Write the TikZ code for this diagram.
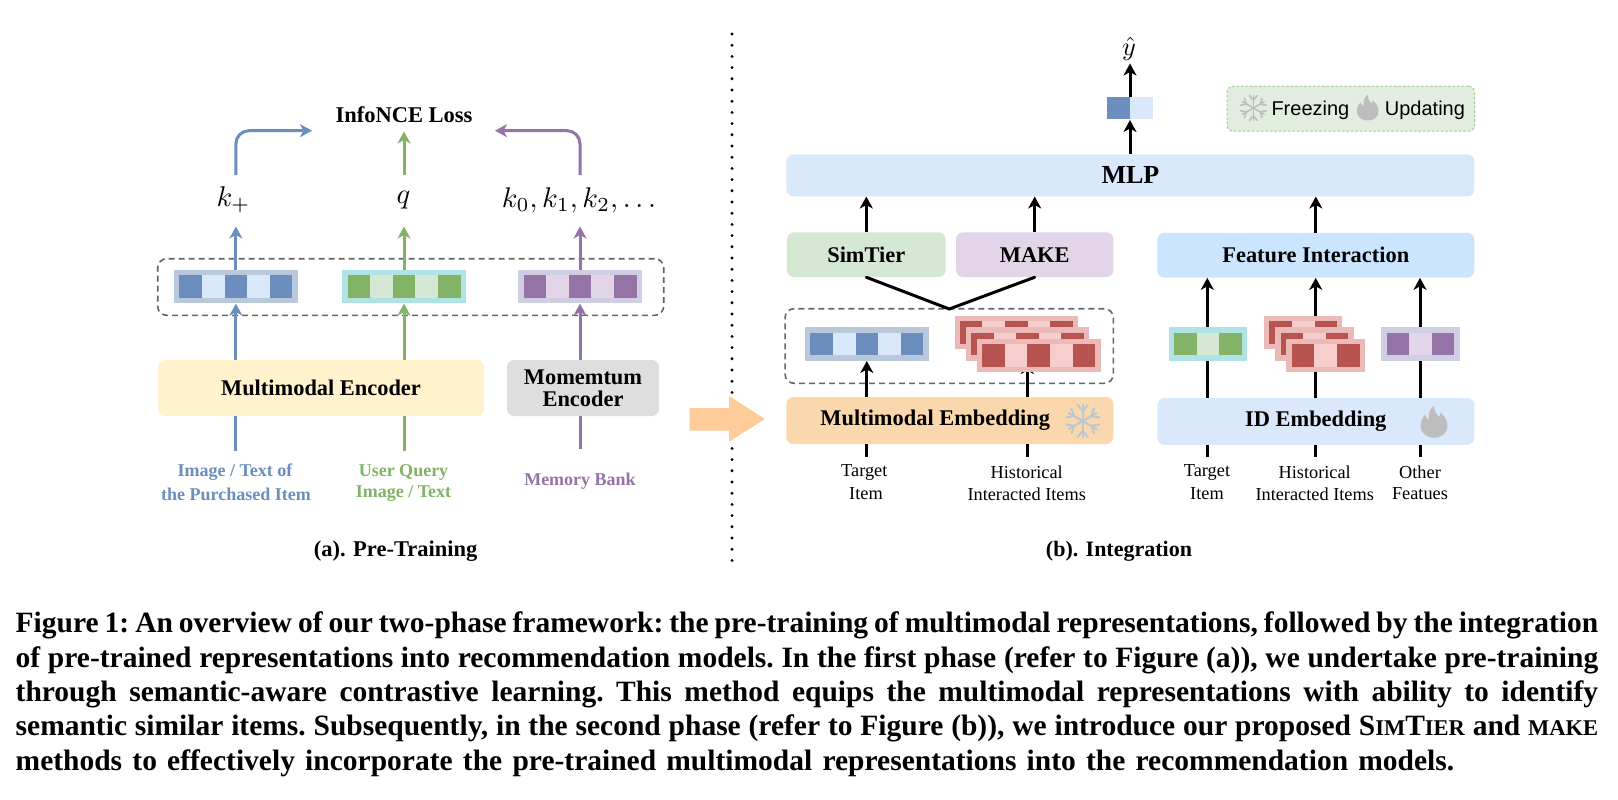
\documentclass[tikz,border=0pt]{standalone}
\usepackage{fontspec}
\setmainfont{Liberation Serif}
\newfontfamily\legendfont{Liberation Sans}
\usetikzlibrary{arrows.meta,shapes.arrows}
\definecolor{cBlue}{HTML}{6C8EBF}
\definecolor{cBlueL}{HTML}{DAE8FC}
\definecolor{cBlueO}{HTML}{BAC8DC}
\definecolor{cGreen}{HTML}{82B366}
\definecolor{cGreenL}{HTML}{D5E8D4}
\definecolor{cGreenO}{HTML}{B0E3E6}
\definecolor{cPurple}{HTML}{9673A6}
\definecolor{cPurpleL}{HTML}{E1D5E7}
\definecolor{cPurpleO}{HTML}{D0CEE2}
\definecolor{cRed}{HTML}{B85450}
\definecolor{cRedL}{HTML}{F8CECC}
\definecolor{cRedO}{HTML}{EAB9B8}
\definecolor{cOrange}{HTML}{FAD7AC}
\definecolor{cArrow}{HTML}{FFCC99}
\definecolor{cIce}{HTML}{BAC8D3}
\definecolor{cFlame}{HTML}{BDBDBD}
\definecolor{cDash}{HTML}{666666}
\definecolor{cLegend}{HTML}{E1EEDF}
\definecolor{cYellow}{HTML}{FFF2CC}
\definecolor{cGrey}{HTML}{DEDEDE}
\definecolor{cSky}{HTML}{CCE5FF}
\newcommand{\sz}[1]{\fontsize{#1}{#1}\selectfont}
\tikzset{
  box/.style={rounded corners=7pt,inner sep=0pt,align=center,font=\sz{22.4}\bfseries,text=black},
  lab/.style={inner sep=0pt,align=center,font=\sz{18}\bfseries},
  plain/.style={inner sep=0pt,align=center,font=\sz{18.3}},
  conn/.style={line width=3pt,-{Stealth[length=12pt,width=13pt,inset=3.5pt]}},
  stub/.style={line width=3pt},
  group/.style={draw=cDash,line width=1.6pt,dash pattern=on 6pt off 4pt,rounded corners=9pt},
  cell/.style={inner sep=0pt,minimum width=22.6pt,minimum height=22.6pt},
  outer/.style={inner sep=0pt,minimum height=33.4pt},
  mathlab/.style={inner sep=0pt,scale=2.85},
}
% \vecbar{name}{cx}{cy}{outer}{dark}{light}{n}
\newcommand{\vecbar}[7]{%
  \pgfmathsetmacro{\vw}{#7*22.6+10.6}%
  \node[outer,fill=#4,minimum width=\vw pt] (#1) at (#2,#3) {};
  \foreach \vi in {1,...,#7}{%
    \pgfmathsetmacro{\vx}{#2+(\vi-(#7+1)/2)*22.6}%
    \pgfmathtruncatemacro{\vo}{mod(\vi,2)}%
    \ifnum\vo=1 \node[cell,fill=#5] (#1-\vi) at (\vx,#3) {};%
    \else \node[cell,fill=#6] (#1-\vi) at (\vx,#3) {};\fi
  }%
}
% \snow{name}{cx}{cy}{r}{colour}{lw}
\newcommand{\snow}[6]{%
  \coordinate (#1) at (#2,#3);
  \begin{scope}[shift={(#2,#3)},draw=#5,line width=#6pt,line cap=round]
    \foreach \a in {0,60,120,180,240,300}{%
      \draw[rotate=\a+30] (0,0) -- (#4,0);
      \draw[rotate=\a+30] (0.62*#4,0) -- (#4,0.32*#4);
      \draw[rotate=\a+30] (0.62*#4,0) -- (#4,-0.32*#4);
    }
  \end{scope}
}
% \flame{name}{cx}{cy}{scale}
\newcommand{\flame}[4]{%
  \coordinate (#1) at (#2,#3);
  \fill[cFlame,shift={(#2,#3)},scale=#4]
    (0,16) .. controls (-8,16) and (-13.5,11) .. (-13.5,4)
    .. controls (-13.5,-1) and (-11,-4) .. (-9,-7)
    .. controls (-8,-4) and (-7,-2.5) .. (-5,-2)
    .. controls (-6,-8) and (-4,-13) .. (0,-16)
    .. controls (0,-11) and (2,-8) .. (5,-5)
    .. controls (6,-6) and (6.5,-7.5) .. (6.5,-9)
    .. controls (11,-5) and (13.5,-1) .. (13.5,4)
    .. controls (13.5,11) and (8,16) .. (0,16) -- cycle;
}
\begin{document}
\begin{tikzpicture}[x=1pt,y=-1pt]
\useasboundingbox (0,0) rectangle (1618,800);
\fill[white] (0,0) rectangle (1618,800);

% ---------- divider
\coordinate (divT) at (732,34);
\coordinate (divB) at (732,567);
\draw[black,line width=3.2pt,line cap=round,dash pattern=on 0pt off 11.2pt] (divT) -- (divB);

% ---------- (a) pre-training
\node[inner sep=0pt,font=\sz{22.5}\bfseries] (loss) at (404,114.5) {InfoNCE Loss};
\node[mathlab] (kp) at (233.5,200) {$k_+$};
\node[mathlab] (qq) at (403.5,200) {$q$};
\node[mathlab] (kn) at (579,200) {$k_0,k_1,k_2,\dots$};

\node[box,fill=cYellow,minimum width=326pt,minimum height=56pt] (enc) at (321,388) {\raisebox{-4pt}{Multimodal Encoder}};
\node[box,fill=cGrey,minimum width=152pt,minimum height=56pt] (mom) at (583,388) {\raisebox{-2pt}{\shortstack{Momemtum\\[3.5pt]Encoder}}};

\coordinate (blueTop) at (235.9,175);
\coordinate (greenTop) at (404,175);
\coordinate (purpTop) at (580,175);
\coordinate (blueIn) at (235.9,450.5);
\coordinate (greenIn) at (404,450.5);
\coordinate (purpIn) at (580,449);
\coordinate (blueEnd) at (312,130.7);
\coordinate (greenEnd) at (404,131.5);
\coordinate (purpEnd) at (495,130.7);

\node[group,minimum width=506pt,minimum height=56.6pt,inner sep=0pt] (grpA) at (410.7,287) {};
\vecbar{va}{235.9}{286.7}{cBlueO}{cBlue}{cBlueL}{5}
\vecbar{vb}{404}{286.7}{cGreenO}{cGreen}{cGreenL}{5}
\vecbar{vc}{580}{286.7}{cPurpleO}{cPurple}{cPurpleL}{5}

\draw[conn,cBlue] (va.north) -- ++(0,-43.3);
\draw[conn,cGreen] (vb.north) -- ++(0,-43.3);
\draw[conn,cPurple] (vc.north) -- ++(0,-43.3);
\draw[conn,cBlue] (va.south |- enc.north) -- (va.south);
\draw[conn,cGreen] (vb.south |- enc.north) -- (vb.south);
\draw[conn,cPurple] (vc.south |- mom.north) -- (vc.south);
\draw[stub,cBlue] (blueIn) -- (blueIn |- enc.south);
\draw[stub,cGreen] (greenIn) -- (greenIn |- enc.south);
\draw[stub,cPurple] (purpIn) -- (purpIn |- mom.south);
\draw[conn,cBlue,rounded corners=13pt] (blueTop) -- (blueTop |- blueEnd) -- (blueEnd);
\draw[conn,cGreen] (greenTop) -- (greenEnd);
\draw[conn,cPurple,rounded corners=13pt] (purpTop) -- (purpTop |- purpEnd) -- (purpEnd);

\node[lab,text=cBlue] (lbA1) at (235,472.5) {Image / Text of};
\node[lab,text=cBlue] (lbA2) at (236,494) {the Purchased Item};
\node[lab,text=cGreen] (lbB1) at (403.5,472.5) {User Query};
\node[lab,text=cGreen] (lbB2) at (403.5,494) {Image / Text};
\node[lab,text=cPurple] (lbC) at (580,481) {Memory Bank};
\node[inner sep=0pt,font=\sz{22.5}\bfseries] (capA) at (395.6,551) {(a). Pre-Training};

% orange arrow
\fill[cArrow] (689.6,408) -- (729,408) -- (729,396) -- (765,419) -- (729,441.7) -- (729,430.7) -- (689.6,430.7) -- cycle;

% ---------- (b) integration
\node[mathlab,scale=0.92] (yh) at (1129,49) {$\hat y$};
\node[box,fill=cBlueL,minimum width=688pt,minimum height=42pt,font=\sz{26}\bfseries] (mlp) at (1130.4,175.3) {MLP};
\node[cell,fill=cBlue] (ol) at (1118.7,108) {};
\node[cell,fill=cBlueL] (or) at (1141.3,108) {};
\coordinate (outMid) at (1130,108);
\draw[conn] (1130,96.7) -- (1130,63.5);
\draw[conn] (mlp.north -| outMid) -- (1130,120);

\node[rounded corners=6pt,fill=cLegend,draw=cGreen!70!white,line width=1pt,dash pattern=on 2.5pt off 2pt,minimum width=247.5pt,minimum height=45pt,inner sep=0pt] (legend) at (1350.8,108.7) {};
\snow{legS}{1253.3}{108}{12.5}{cFlame}{1.5}
\node[inner sep=0pt,anchor=base west,font=\sz{20}\legendfont] (frz) at (1271.3,115.5) {Freezing};
\flame{legF}{1367.7}{107.7}{0.8}
\node[inner sep=0pt,anchor=base west,font=\sz{20}\legendfont] (upd) at (1384.7,115.5) {Updating};

\node[box,fill=cGreenL,minimum width=158.7pt,minimum height=44.7pt] (sim) at (866.3,254.7) {\raisebox{-2pt}{SimTier}};
\node[box,fill=cPurpleL,minimum width=157.3pt,minimum height=44.7pt] (make) at (1034.7,254.7) {\raisebox{-1pt}{MAKE}};
\node[box,fill=cSky,minimum width=317pt,minimum height=44.7pt] (fi) at (1315.8,255.3) {\raisebox{-2pt}{Feature Interaction}};
\node[box,fill=cOrange,minimum width=327pt,minimum height=47pt] (mme) at (949.8,420.5) {\hspace{-29pt}\raisebox{-4pt}{Multimodal Embedding}};
\node[box,fill=cBlueL,minimum width=317pt,minimum height=46.7pt] (ide) at (1315.8,421.4) {\raisebox{-4pt}{ID Embedding}};

\draw[conn] (sim.north) -- (sim.north |- mlp.south);
\draw[conn] (make.north) -- (make.north |- mlp.south);
\draw[conn] (fi.north) -- (fi.north |- mlp.south);

\node[group,minimum width=328.3pt,minimum height=74.6pt,inner sep=0pt] (grpB) at (949.2,346) {};
\coordinate (join) at (949.3,309);
\draw[stub,line cap=round] (sim.south) -- (join) -- (make.south);

% connectors below the stacked vectors
\coordinate (t1) at (866.8,456.7);
\coordinate (t2) at (1027.3,456.7);
\coordinate (t3) at (1207.3,456.7);
\coordinate (t4) at (1315.7,456.7);
\coordinate (t5) at (1420,456.7);
\draw[conn] (t1 |- mme.north) -- (866.8,361);
\draw[conn] (t2 |- mme.north) -- (1027.3,362);
\draw[conn] (t3 |- ide.north) -- (t3 |- fi.south);
\draw[conn] (t4 |- ide.north) -- (t4 |- fi.south);
\draw[conn] (t5 |- ide.north) -- (t5 |- fi.south);
\foreach \p/\q in {t1/mme,t2/mme,t3/ide,t4/ide,t5/ide}{\draw[stub] (\p) -- (\p |- \q.south);}

\vecbar{vd}{866.8}{344}{cBlueO}{cBlue}{cBlueL}{5}
\vecbar{re1}{1016.3}{332.6}{cRedO}{cRed}{cRedL}{5}
\vecbar{re2}{1027.5}{344}{cRedO}{cRed}{cRedL}{5}
\vecbar{re3}{1038.7}{355.4}{cRedO}{cRed}{cRedL}{5}
\vecbar{ve}{1207.8}{344}{cGreenO}{cGreen}{cGreenL}{3}
\vecbar{rf1}{1303.2}{332.6}{cRedO}{cRed}{cRedL}{3}
\vecbar{rf2}{1314.4}{344}{cRedO}{cRed}{cRedL}{3}
\vecbar{rf3}{1325.6}{355.4}{cRedO}{cRed}{cRedL}{3}
\vecbar{vf}{1420.5}{344}{cPurpleO}{cPurple}{cPurpleL}{3}

\snow{sn}{1082.7}{421}{16}{cIce}{2}
\flame{fl}{1434}{421.7}{1}

\node[plain] (t1a) at (864.3,472) {Target};
\node[plain] (t1b) at (866,494) {Item};
\node[plain] (t2a) at (1026.7,472) {Historical};
\node[plain] (t2b) at (1026.7,494) {Interacted Items};
\node[plain] (t3a) at (1207,472) {Target};
\node[plain] (t3b) at (1207,494) {Item};
\node[plain] (t4a) at (1314.7,472) {Historical};
\node[plain] (t4b) at (1314.7,494) {Interacted Items};
\node[plain] (t5a) at (1420,472) {Other};
\node[plain] (t5b) at (1420,494) {Featues};
\node[inner sep=0pt,font=\sz{22}\bfseries] (capB) at (1119,551) {(b). Integration};

% ---------- caption
\newcommand{\lsc}[1]{{\fontsize{22.5}{22.5}\selectfont #1}}
\node[inner sep=0pt,anchor=base west] (caption) at (15.5,770) {\vbox{\fontsize{29.5}{34.3}\selectfont\bfseries\frenchspacing
\hbox to 1582.5pt{Figure 1: An overview of our two-phase framework: the pre-training of multimodal representations, followed by the integration}
\hbox to 1582.5pt{of pre-trained representations into recommendation models. In the first phase (refer to Figure (a)), we undertake pre-training}
\hbox to 1582.5pt{through semantic-aware contrastive learning. This method equips the multimodal representations with ability to identify}
\hbox to 1582.5pt{semantic similar items. Subsequently, in the second phase (refer to Figure (b)), we introduce our proposed S\lsc{IM}T\lsc{IER} and \lsc{MAKE}}
\hbox to 1438.5pt{methods to effectively incorporate the pre-trained multimodal representations into the recommendation models.}}};
\end{tikzpicture}
\end{document}
